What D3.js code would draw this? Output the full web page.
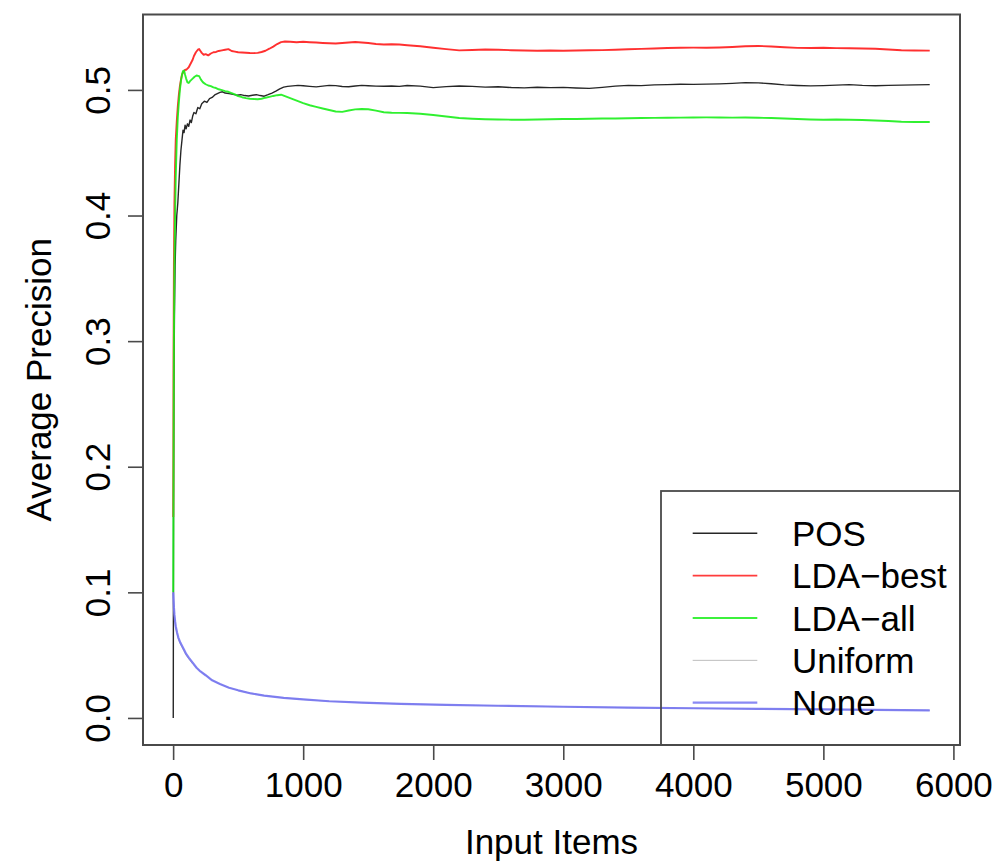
<!DOCTYPE html>
<html>
<head>
<meta charset="utf-8">
<script src="https://cdn.jsdelivr.net/npm/d3@7"></script>
<style>
  html, body { margin: 0; padding: 0; background: #fff; }
  svg { display: block; }
  text { font-family: "Liberation Sans", Arial, Helvetica, sans-serif; fill: #000; }
</style>
</head>
<body>
<svg id="chart" width="1003" height="862"></svg>
<script>
// ---- Data: average precision as a function of the number of input items ----
const seriesNames = ["POS", "LDA\u2212best", "LDA\u2212all", "Uniform", "None"];
const seriesColors = ["#000000", "#ff1a1a", "#1aee1a", "#b0b0b0", "#7474f2"];
const seriesWidths = [1.4, 1.9, 1.9, 1.0, 2.2];

const posItems = [1, 3, 6, 10, 15, 20, 28, 36, 44, 52, 60, 68, 76, 84, 92, 100, 110, 120, 130, 140, 150, 160, 175, 190, 205, 220, 240, 260, 280, 300, 320, 340, 360, 380, 400, 430, 460, 490, 520, 550, 580, 610, 640, 670, 700, 730, 760, 790, 820, 850, 880, 920, 960, 1000, 1050, 1100, 1150, 1200, 1250, 1300, 1350, 1400, 1450, 1500, 1560, 1620, 1680, 1740, 1800, 1900, 2000, 2100, 2200, 2300, 2400, 2500, 2600, 2700, 2800, 2900, 3000, 3100, 3200, 3300, 3400, 3500, 3600, 3700, 3800, 3900, 4000, 4100, 4200, 4300, 4400, 4500, 4600, 4700, 4800, 4900, 5000, 5100, 5200, 5300, 5400, 5500, 5600, 5700, 5818];
const posValues = [0, 0.16, 0.26, 0.32, 0.36, 0.38, 0.40, 0.41, 0.425, 0.44, 0.452, 0.46, 0.468, 0.466, 0.472, 0.469, 0.473, 0.471, 0.476, 0.474, 0.479, 0.482, 0.481, 0.486, 0.485, 0.489, 0.491, 0.490, 0.493, 0.494, 0.496, 0.497, 0.498, 0.4985, 0.4975, 0.497, 0.4965, 0.4958, 0.4962, 0.4955, 0.4952, 0.4958, 0.4962, 0.4955, 0.4950, 0.4962, 0.4975, 0.499, 0.5008, 0.5022, 0.5028, 0.5032, 0.5036, 0.5033, 0.5028, 0.5024, 0.5030, 0.5036, 0.5034, 0.5027, 0.5025, 0.5031, 0.5036, 0.5033, 0.5030, 0.5029, 0.5031, 0.5028, 0.5035, 0.5030, 0.5018, 0.5026, 0.5031, 0.5028, 0.5022, 0.5025, 0.5019, 0.5016, 0.5021, 0.5018, 0.5020, 0.5015, 0.5012, 0.5020, 0.5030, 0.5036, 0.5034, 0.5040, 0.5042, 0.5045, 0.5044, 0.5046, 0.5048, 0.5052, 0.5058, 0.5056, 0.5049, 0.5040, 0.5035, 0.5032, 0.5034, 0.5038, 0.5042, 0.5036, 0.5033, 0.5036, 0.5038, 0.5040, 0.5042];

const bestItems = [1, 3, 6, 10, 15, 20, 28, 36, 44, 52, 60, 68, 76, 84, 92, 100, 110, 120, 130, 140, 150, 160, 175, 190, 200, 210, 220, 235, 250, 270, 290, 310, 330, 350, 375, 400, 425, 450, 475, 500, 530, 560, 590, 620, 650, 680, 710, 740, 770, 800, 830, 860, 900, 950, 1000, 1050, 1100, 1150, 1200, 1250, 1300, 1350, 1400, 1450, 1500, 1560, 1620, 1680, 1740, 1800, 1900, 2000, 2100, 2200, 2300, 2400, 2500, 2600, 2700, 2800, 2900, 3000, 3100, 3200, 3300, 3400, 3500, 3600, 3700, 3800, 3900, 4000, 4100, 4200, 4300, 4400, 4500, 4600, 4700, 4800, 4900, 5000, 5100, 5200, 5300, 5400, 5500, 5600, 5700, 5818];
const bestValues = [0.16, 0.28, 0.36, 0.41, 0.44, 0.46, 0.475, 0.487, 0.496, 0.503, 0.508, 0.512, 0.514, 0.515, 0.516, 0.516, 0.517, 0.518, 0.520, 0.522, 0.524, 0.527, 0.530, 0.532, 0.5325, 0.531, 0.5295, 0.528, 0.5285, 0.5275, 0.529, 0.530, 0.5302, 0.531, 0.5315, 0.532, 0.5325, 0.531, 0.5305, 0.530, 0.5298, 0.5296, 0.5294, 0.5293, 0.5295, 0.5302, 0.5312, 0.5328, 0.5345, 0.5365, 0.538, 0.5385, 0.5383, 0.5380, 0.5384, 0.5380, 0.5377, 0.5374, 0.5371, 0.5369, 0.5373, 0.5378, 0.5382, 0.5378, 0.5373, 0.5366, 0.5362, 0.5363, 0.5361, 0.5356, 0.5348, 0.5336, 0.5325, 0.5315, 0.5318, 0.5322, 0.5320, 0.5316, 0.5314, 0.5312, 0.5314, 0.5312, 0.5314, 0.5316, 0.5317, 0.5320, 0.5324, 0.5327, 0.5330, 0.5334, 0.5336, 0.5337, 0.5336, 0.5338, 0.5342, 0.5348, 0.5350, 0.5346, 0.5340, 0.5335, 0.5334, 0.5336, 0.5333, 0.5332, 0.5330, 0.5328, 0.5322, 0.5316, 0.5314, 0.5313];

const allItems = [1, 3, 6, 10, 15, 20, 28, 36, 44, 52, 60, 68, 76, 84, 92, 100, 110, 120, 130, 140, 150, 165, 180, 200, 215, 230, 250, 270, 290, 310, 330, 350, 375, 400, 425, 450, 475, 500, 530, 560, 590, 620, 650, 680, 710, 740, 770, 800, 830, 860, 900, 950, 1000, 1050, 1100, 1150, 1200, 1250, 1300, 1350, 1400, 1450, 1500, 1560, 1620, 1680, 1740, 1800, 1900, 2000, 2100, 2200, 2300, 2400, 2500, 2600, 2700, 2800, 2900, 3000, 3100, 3200, 3300, 3400, 3500, 3600, 3700, 3800, 3900, 4000, 4100, 4200, 4300, 4400, 4500, 4600, 4700, 4800, 4900, 5000, 5100, 5200, 5300, 5400, 5500, 5600, 5700, 5818];
const allValues = [0.10, 0.20, 0.30, 0.36, 0.40, 0.43, 0.46, 0.478, 0.49, 0.50, 0.507, 0.512, 0.515, 0.5155, 0.512, 0.509, 0.506, 0.5055, 0.507, 0.508, 0.509, 0.5105, 0.5115, 0.511, 0.508, 0.506, 0.5045, 0.5035, 0.503, 0.502, 0.5015, 0.5005, 0.4998, 0.499, 0.4985, 0.4975, 0.4965, 0.495, 0.4942, 0.4935, 0.4930, 0.4928, 0.4926, 0.4930, 0.4938, 0.4945, 0.4952, 0.4958, 0.4962, 0.4950, 0.4935, 0.4915, 0.4895, 0.4878, 0.4865, 0.4852, 0.4840, 0.4828, 0.4825, 0.4836, 0.4845, 0.4848, 0.4846, 0.4835, 0.4822, 0.4818, 0.4817, 0.4816, 0.4810, 0.4800, 0.4788, 0.4776, 0.4770, 0.4766, 0.4764, 0.4763, 0.4762, 0.4764, 0.4766, 0.4768, 0.4769, 0.4770, 0.4772, 0.4773, 0.4774, 0.4776, 0.4777, 0.4778, 0.4779, 0.4780, 0.4781, 0.4780, 0.4779, 0.4780, 0.4778, 0.4776, 0.4772, 0.4768, 0.4765, 0.4763, 0.4764, 0.4762, 0.4760, 0.4757, 0.4752, 0.4747, 0.4745, 0.4745];

const baseItems = [1, 3, 6, 10, 15, 20, 30, 40, 55, 70, 85, 100, 120, 150, 180, 210, 250, 300, 360, 430, 500, 600, 700, 850, 1000, 1200, 1450, 1750, 2100, 2500, 3000, 3500, 4000, 4500, 5000, 5400, 5818];
const uniformValues = [0.1, 0.094, 0.087, 0.081, 0.076, 0.072, 0.067, 0.063, 0.059, 0.056, 0.053, 0.050, 0.047, 0.043, 0.040, 0.037, 0.034, 0.030, 0.027, 0.024, 0.022, 0.0195, 0.0178, 0.0160, 0.0147, 0.0133, 0.0122, 0.0112, 0.0104, 0.0097, 0.0089, 0.0082, 0.0077, 0.0072, 0.0068, 0.0064, 0.0060];
const noneValues = [0.1, 0.095, 0.088, 0.082, 0.077, 0.073, 0.068, 0.064, 0.060, 0.057, 0.054, 0.051, 0.048, 0.044, 0.040, 0.037, 0.034, 0.030, 0.027, 0.024, 0.022, 0.0195, 0.0178, 0.0160, 0.0148, 0.0133, 0.0122, 0.0112, 0.0104, 0.0097, 0.0089, 0.0082, 0.0077, 0.0072, 0.0068, 0.0064, 0.0060];

const xTicks = [0, 1000, 2000, 3000, 4000, 5000, 6000];
const yTicks = [0.0, 0.1, 0.2, 0.3, 0.4, 0.5];
const xTitle = "Input Items";
const yTitle = "Average Precision";

// ---- Layout ----
const W = 1003, H = 862;
const plot = { left: 143, right: 960, top: 14.5, bottom: 745 };
const fontSize = 35;

const seriesItems = [posItems, bestItems, allItems, baseItems, baseItems];
const seriesValues = [posValues, bestValues, allValues, uniformValues, noneValues];

// Axis ranges padded by 4% on each side of the data range
const nMax = d3.max(seriesItems, a => d3.max(a));
const nMin = d3.min(seriesItems, a => d3.min(a));
const vMax = d3.max(seriesValues, a => d3.max(a));
const vMin = d3.min(seriesValues, a => d3.min(a));
const xPad = 0.04 * (nMax - nMin), yPad = 0.04 * (vMax - vMin);

const x = d3.scaleLinear().domain([nMin - xPad, nMax + xPad]).range([plot.left, plot.right]);
const y = d3.scaleLinear().domain([vMin - yPad, vMax + yPad]).range([plot.bottom, plot.top]);

const svg = d3.select("#chart");
svg.append("rect").attr("width", W).attr("height", H).attr("fill", "#fff");

svg.append("defs").append("clipPath").attr("id", "plotClip")
  .append("rect")
  .attr("x", plot.left).attr("y", plot.top)
  .attr("width", plot.right - plot.left).attr("height", plot.bottom - plot.top);

// ---- Lines ----
const line = d3.line().x(d => x(d[0])).y(d => y(d[1]));
const lines = svg.append("g").attr("clip-path", "url(#plotClip)");
seriesNames.forEach((name, i) => {
  const pts = seriesItems[i].map((n, k) => [n, seriesValues[i][k]]);
  lines.append("path")
    .datum(pts)
    .attr("d", line)
    .attr("fill", "none")
    .attr("stroke", seriesColors[i])
    .attr("stroke-width", seriesWidths[i])
    .attr("stroke-linejoin", "round")
    .attr("stroke-opacity", i === 0 ? 0.85 : 0.9);
});

// ---- Axes ----
const axisColor = "#4a4a4a";
const tickLen = 15;

const xAxis = d3.axisBottom(x).tickValues(xTicks).tickSize(tickLen).tickPadding(10).tickFormat(d3.format("d"));
const gx = svg.append("g").attr("transform", `translate(0,${plot.bottom})`).call(xAxis);
gx.select(".domain").remove();
gx.selectAll(".tick line").attr("stroke", axisColor).attr("stroke-width", 1.6);
gx.selectAll(".tick text")
  .attr("font-size", fontSize)
  .attr("font-family", "Liberation Sans, Arial, Helvetica, sans-serif")
  .attr("dy", null)
  .attr("y", 52);

const yAxis = d3.axisLeft(y).tickValues(yTicks).tickSize(tickLen).tickFormat(d3.format(".1f"));
const gy = svg.append("g").attr("transform", `translate(${plot.left},0)`).call(yAxis);
gy.select(".domain").remove();
gy.selectAll(".tick line").attr("stroke", axisColor).attr("stroke-width", 1.6);
gy.selectAll(".tick text")
  .attr("font-size", fontSize)
  .attr("font-family", "Liberation Sans, Arial, Helvetica, sans-serif")
  .attr("x", null).attr("dy", null)
  .attr("text-anchor", "middle")
  .attr("transform", "translate(-33,0) rotate(-90)");

// Plot frame
svg.append("rect")
  .attr("x", plot.left).attr("y", plot.top)
  .attr("width", plot.right - plot.left).attr("height", plot.bottom - plot.top)
  .attr("fill", "none").attr("stroke", axisColor).attr("stroke-width", 2);

// Axis titles
svg.append("text")
  .attr("x", (plot.left + plot.right) / 2).attr("y", 854)
  .attr("text-anchor", "middle").attr("font-size", fontSize)
  .text(xTitle);

svg.append("text")
  .attr("transform", `translate(51,${(plot.top + plot.bottom) / 2}) rotate(-90)`)
  .attr("text-anchor", "middle").attr("font-size", fontSize)
  .text(yTitle);

// ---- Legend (box runs past the bottom of the plot and is clipped there) ----
const legend = { left: 661, top: 491, right: 960, bottom: 780, first: 533.3, step: 42.35, lineX0: 692.7, lineX1: 757.3, textX: 792 };
const lg = svg.append("g").attr("clip-path", "url(#plotClip)");
lg.append("rect")
  .attr("x", legend.left).attr("y", legend.top)
  .attr("width", legend.right - legend.left).attr("height", legend.bottom - legend.top)
  .attr("fill", "none").attr("stroke", axisColor).attr("stroke-width", 1.8);

seriesNames.forEach((name, i) => {
  const yy = legend.first + i * legend.step;
  lg.append("line")
    .attr("x1", legend.lineX0).attr("x2", legend.lineX1)
    .attr("y1", yy).attr("y2", yy)
    .attr("stroke", seriesColors[i])
    .attr("stroke-width", seriesWidths[i])
    .attr("stroke-opacity", 0.85);
  lg.append("text")
    .attr("x", legend.textX).attr("y", yy + 12.5)
    .attr("font-size", fontSize)
    .text(name);
});
</script>
</body>
</html>
